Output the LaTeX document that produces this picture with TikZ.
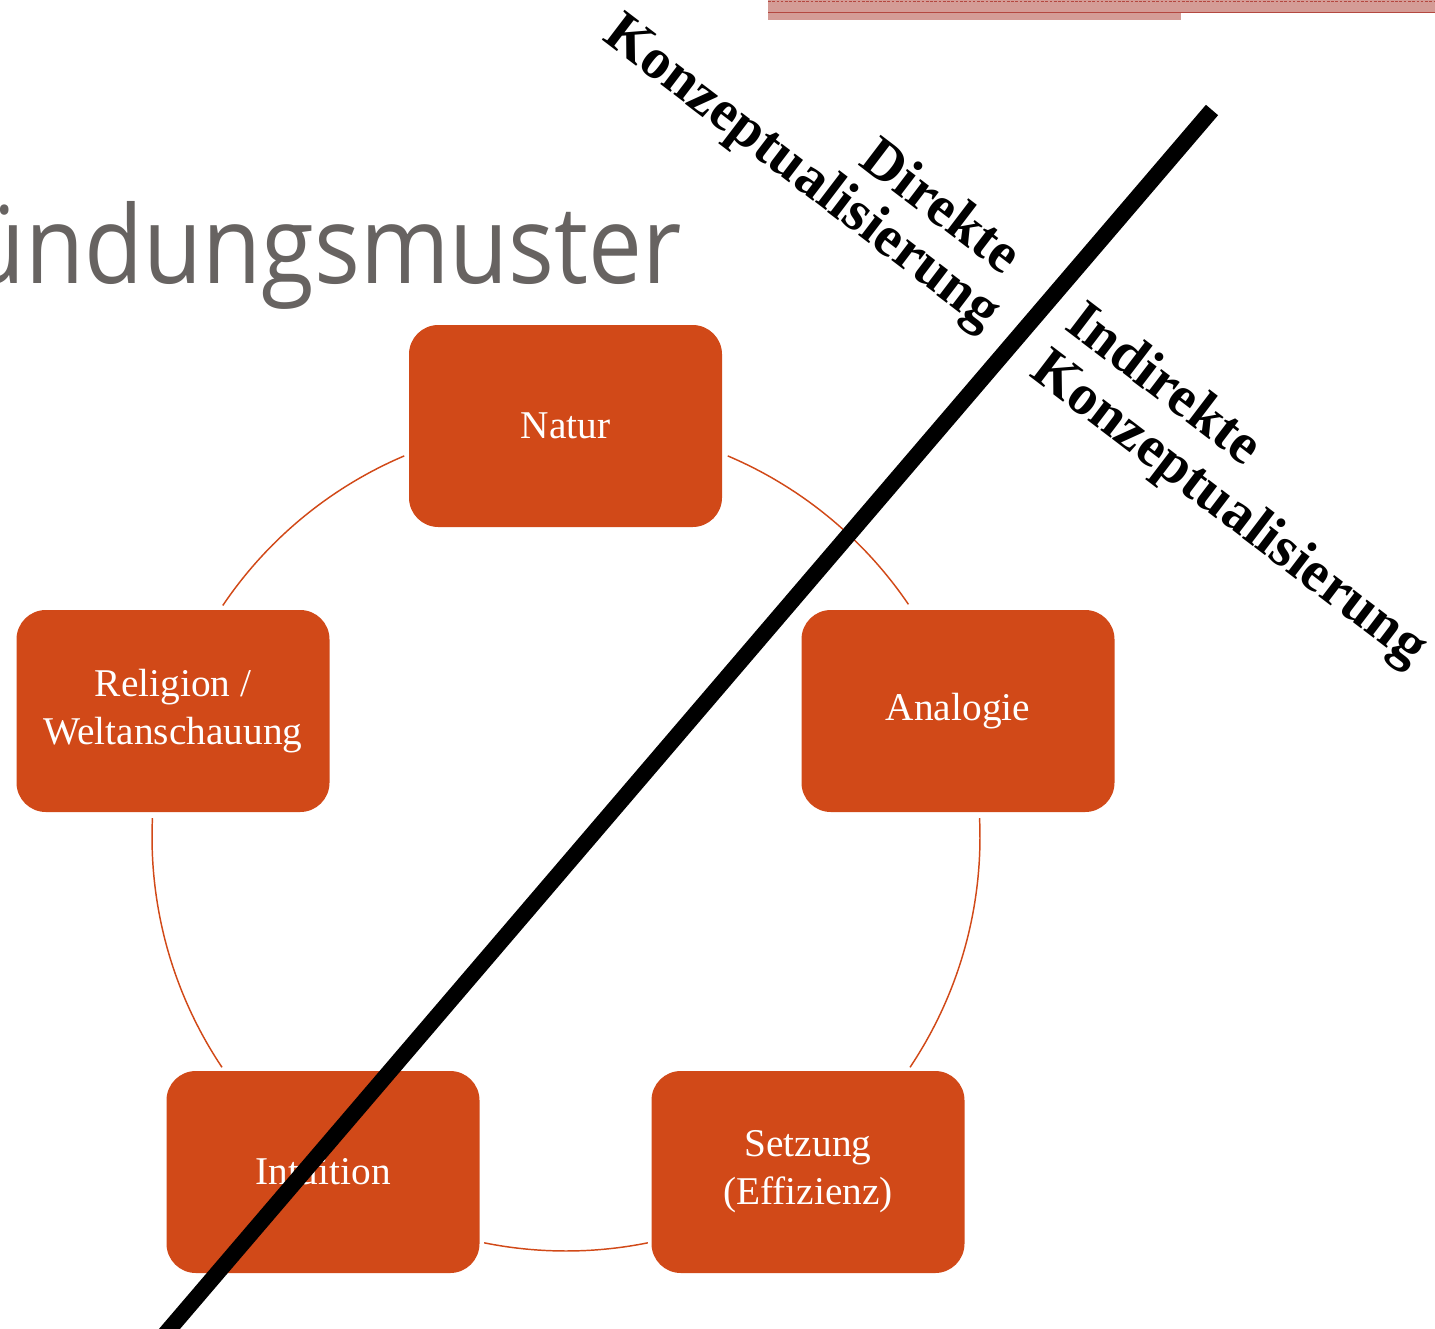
\documentclass[tikz,border=0pt]{standalone}
\usepackage{fontspec}
\setmainfont{Liberation Serif}
\newfontfamily\titlefont{Open Sans}
\usetikzlibrary{calc}
\definecolor{boxfill}{RGB}{209,73,24}
\definecolor{titlegray}{RGB}{103,99,97}
\definecolor{barfill}{RGB}{212,156,150}
\definecolor{barline}{RGB}{180,72,64}
\newlength\ttw
\begin{document}
\settowidth{\ttw}{\titlefont\fontsize{81}{90}\selectfont ndungsmuster}%
\pgfmathsetmacro\tsx{492/\ttw}%
\begin{tikzpicture}[x=0.75pt,y=-0.75pt,
  box/.style={draw=none, fill=boxfill, rounded corners=22pt, minimum width=234.75pt,
    minimum height=151.5pt, inner sep=0pt, text=white, align=center,
    font=\fontsize{29.5}{36}\selectfont},
  ring/.style={draw=boxfill, line width=1.1pt},
  lbl/.style={font=\bfseries\fontsize{43}{45}\selectfont, rotate=-37.3, inner sep=0pt},
  divider/.style={line width=12pt, black}]
\useasboundingbox (0,0) rectangle (1435,1328);
\begin{scope}
\clip (0,0) rectangle (1435,1328);
% top decorative bar
\fill[barfill] (768,0) rectangle (1435,12.5);
\fill[barfill] (768,12.5) rectangle (1181,19.5);
\draw[barline, line width=0.9pt] (768,12.5) -- (1435,12.5);
\draw[barline, dash pattern=on 2pt off 1.2pt, line width=0.6pt] (768,1.5) -- (1435,1.5);
% title
\node[anchor=base east, inner sep=0pt, text=titlegray] (title) at (682,283)
  {\scalebox{\tsx}[1]{\titlefont\fontsize{81}{90}\selectfont Begründungsmuster}};
% boxes
\node[box] (natur) at (565.5,426) {Natur};
\node[box] (religion) at (173,711) {Religion /\\Weltanschauung};
\node[box] (analogie) at (958,711) {Analogie};
\node[box] (intuition) at (323,1172) {Intuition};
\node[box] (setzung) at (808,1172) {Setzung\\(Effizienz)};
% ring arcs
\coordinate (c) at (566,837);
\draw[ring] ($(c)+(-113:414)$) arc[start angle=-113, end angle=-146, radius=414];
\draw[ring] ($(c)+(-177.4:414)$) arc[start angle=-177.4, end angle=-213.8, radius=414];
\draw[ring] ($(c)+(101.4:414)$) arc[start angle=101.4, end angle=78.6, radius=414];
\draw[ring] ($(c)+(33.8:414)$) arc[start angle=33.8, end angle=-2.6, radius=414];
\draw[ring] ($(c)+(-34.2:414)$) arc[start angle=-34.2, end angle=-67, radius=414];
% divider
\coordinate (dtop) at (1212,110);
\coordinate (dbot) at (160,1340);
\draw[divider] (dtop) -- (dbot);
% labels
\node[lbl, anchor=base east] (direkt1) at (1004,276) {Direkte};
\node[lbl, anchor=base east] (direkt2) at (984,331) {Konzeptualisierung};
\node[lbl, anchor=base west] (indirekt1) at (1063,328) {Indirekte};
\node[lbl, anchor=base west] (indirekt2) at (1028,375) {Konzeptualisierung};
\end{scope}
\end{tikzpicture}
\end{document}
